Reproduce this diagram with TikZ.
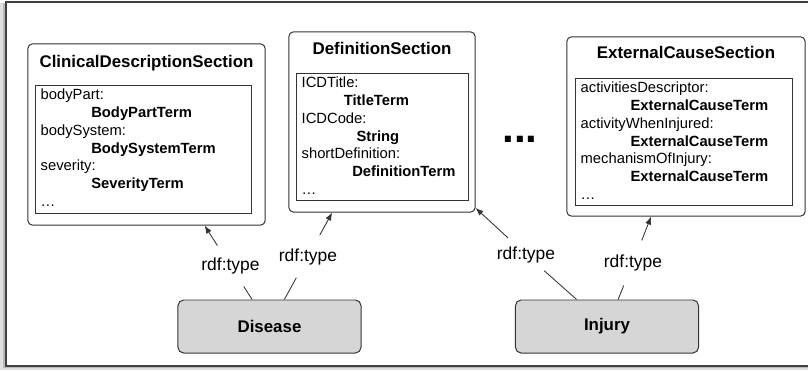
\documentclass[tikz,border=0pt]{standalone}
\usepackage{fontspec}
\setmainfont{Liberation Sans}
\usepackage{tikz}
\usetikzlibrary{arrows.meta,positioning,shapes}

\definecolor{linegray}{HTML}{333333}
\definecolor{boxgray}{HTML}{D6D6D6}
\newcommand{\slotterm}[2][36pt]{\hspace*{#1}\textbf{#2}}

\begin{document}
\begin{tikzpicture}[x=0.025cm,y=-0.025cm,
    secbox/.style={draw=linegray,line width=0.7pt,rounded corners=3pt,fill=white},
    slotbox/.style={draw=linegray,line width=0.7pt},
    sectitle/.style={font=\fontsize{12}{14}\selectfont\bfseries,anchor=base},
    slottext/.style={anchor=north west,align=left,inner xsep=3.5pt,inner ysep=2.5pt,font=\fontsize{10.5}{12.6}\selectfont},
    entity/.style={draw=linegray,line width=0.7pt,rounded corners=4pt,fill=boxgray,minimum width=4.575cm,minimum height=1.325cm,font=\fontsize{12}{14}\selectfont\bfseries},
    rdflabel/.style={circle,inner sep=0pt,minimum size=1.2cm,font=\fontsize{12.4}{14}\selectfont},
    link/.style={draw=linegray,line width=0.6pt}]
      \useasboundingbox (0,0) rectangle (808,370);
      \clip (0,0) rectangle (808,370);
      % frame and its shadow
      \fill[gray!25] (0,3) rectangle (820,370);
      \fill[gray!55] (3,3) rectangle (820,368);
      \draw[draw=black!75,line width=1pt,fill=white] (6,2) rectangle (820,366);

      % the three sections
      \node[secbox,minimum width=5.925cm,minimum height=4.525cm] (cd) at (146.5,134.5) {};
      \node[sectitle] (cdtitle) at (146.5,67) {ClinicalDescriptionSection};
      \node[slotbox,minimum width=5.375cm,minimum height=3.175cm] (cdslots) at (143.5,149.5) {};
      \node[slottext] (cdtext) at (cdslots.north west) {bodyPart:\\ \slotterm{BodyPartTerm}\\ bodySystem:\\ \slotterm{BodySystemTerm}\\ severity:\\ \slotterm{SeverityTerm}\\ \ldots};

      \node[secbox,minimum width=4.65cm,minimum height=4.5cm] (def) at (382,122) {};
      \node[sectitle] (deftitle) at (382,54) {DefinitionSection};
      \node[slotbox,minimum width=4.275cm,minimum height=3.15cm] (defslots) at (382.5,137) {};
      \node[slottext] (deftext) at (defslots.north west) {ICDTitle:\\ \slotterm[30pt]{TitleTerm}\\ ICDCode:\\ \slotterm[39pt]{String}\\ shortDefinition:\\ \slotterm{DefinitionTerm}\\ \ldots};

      \node[secbox,minimum width=5.95cm,minimum height=4.475cm] (ext) at (686,126.5) {};
      \node[sectitle] (exttitle) at (686,58) {ExternalCauseSection};
      \node[slotbox,minimum width=5.4cm,minimum height=3.15cm] (extslots) at (684,142) {};
      \node[slottext] (exttext) at (extslots.north west) {activitiesDescriptor:\\ \slotterm[35.5pt]{ExternalCauseTerm}\\ activityWhenInjured:\\ \slotterm[35.5pt]{ExternalCauseTerm}\\ mechanismOfInjury:\\ \slotterm[35.5pt]{ExternalCauseTerm}\\ \ldots};

      \node[font=\fontsize{30}{30}\selectfont\bfseries,anchor=base] (more) at (520,142) {...};

      % instances
      \node[entity] (disease) at (269.5,326.5) {Disease};
      \node[entity] (injury) at (607,326.5) {Injury};

      \node[rdflabel] (cdtype) at (230.5,266) {\makebox[0pt]{rdf:type}};
      \node[rdflabel] (deftype) at (308,256.5) {\makebox[0pt]{rdf:type}};
      \node[rdflabel] (injdeftype) at (526,254.5) {\makebox[0pt]{rdf:type}};
      \node[rdflabel] (exttype) at (633,263) {\makebox[0pt]{rdf:type}};

      \draw[link] (disease) -- (cdtype);
      \draw[link,-{Latex[length=2mm,width=1.5mm]}] (cdtype) -- (cd);
      \draw[link] (disease) -- (deftype);
      \draw[link,-{Latex[length=2mm,width=1.5mm]}] (deftype) -- (def);
      \draw[link] (injury) -- (injdeftype);
      \draw[link,-{Latex[length=2mm,width=1.5mm]}] (injdeftype) -- (def);
      \draw[link] (injury) -- (exttype);
      \draw[link,-{Latex[length=2mm,width=1.5mm]}] (exttype) -- (ext);
    \end{tikzpicture}
\end{document}
